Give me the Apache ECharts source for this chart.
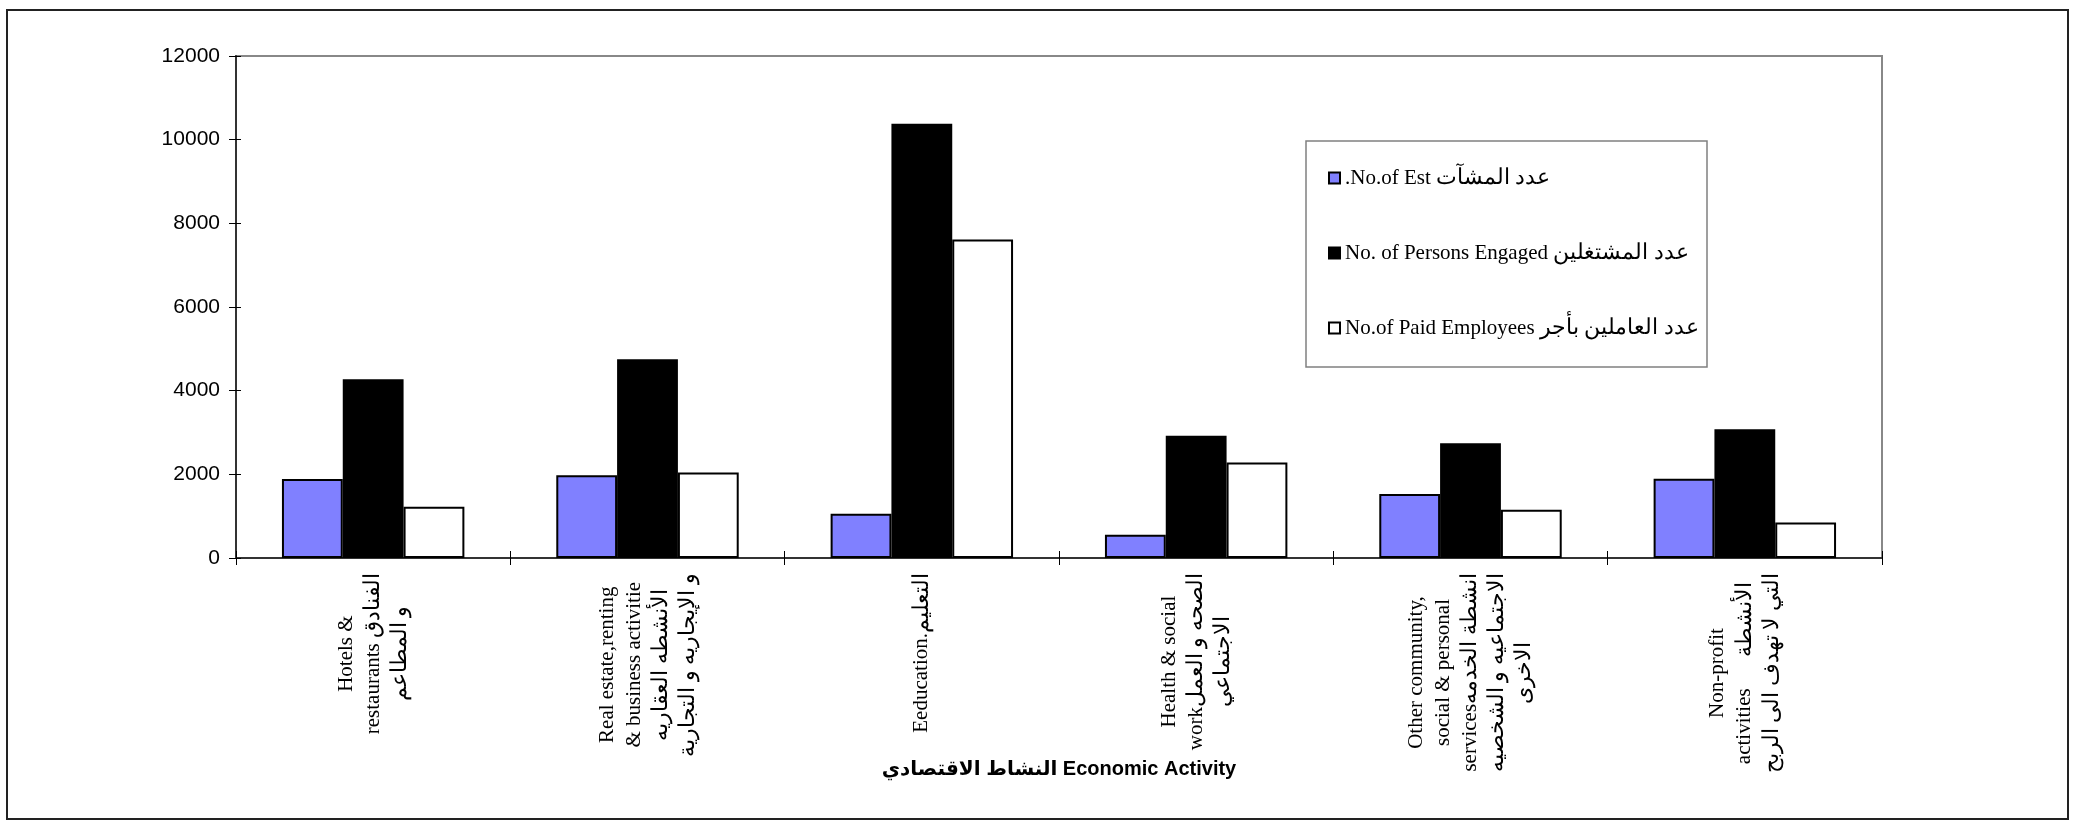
<!DOCTYPE html>
<html>
<head>
<meta charset="utf-8">
<script src="https://cdn.jsdelivr.net/npm/echarts@6/dist/echarts.min.js"></script>
<style>
html,body{margin:0;padding:0;background:#fff;}
#chart{width:2075px;height:824px;}
</style>
</head>
<body>
<div id="chart"></div>
<script>
// ---- data ----
var categories = [
  "Hotels &\nrestaurants الفنادق\nو المطاعم",
  "Real estate,renting\n& business activitie\nالأنشطه العقاريه\nو الإيجاريه و التجارية",
  "Eeducation.التعليم",
  "Health & social\nworkالصحه و العمل\nالاجتماعي",
  "Other community,\nsocial & personal\nservicesانشطة الخدمه\nالاجتماعيه و الشخصيه\nالاخرى",
  "Non-profit\nactivities      الأنشطة\nالتي لا تهدف الى الربح"
];
var seriesNames = [
  ".No.of Est عدد المشآت",
  "No. of Persons Engaged عدد المشتغلين",
  "No.of Paid Employees عدد العاملين بأجر"
];
var establishments = [1886, 1981, 1058, 557, 1528, 1894];
var personsEngaged = [4272, 4750, 10383, 2920, 2745, 3079];
var paidEmployees = [1225, 2045, 7614, 2283, 1154, 851];
var yTicks = [0, 2000, 4000, 6000, 8000, 10000, 12000];
var axisTitle = "النشاط الاقتصادي Economic Activity";

// ---- chart ----
var chart = echarts.init(document.getElementById('chart'), null, {renderer: 'canvas'});
var serif = "'Liberation Serif', 'Times New Roman', 'DejaVu Serif', serif";
var sans = "'Liberation Sans', Arial, 'DejaVu Sans', sans-serif";
var fills = ['#8080FF', '#000000', '#FFFFFF'];
var dataSets = [establishments, personsEngaged, paidEmployees];

// split a line into latin / arabic runs as rich tokens
function richLine(line, latinStyle, arabicStyle) {
  var parts = line.split(/([\u0600-\u06FF]+(?:\s+[\u0600-\u06FF]+)*)/);
  var out = '';
  parts.forEach(function (p) {
    if (!p) return;
    var isAr = /[\u0600-\u06FF]/.test(p);
    out += '{' + (isAr ? arabicStyle : latinStyle) + '|' + p + '}';
  });
  return out;
}

var series = dataSets.map(function (d, i) {
  return {
    name: seriesNames[i],
    type: 'bar',
    data: d,
    barGap: '0%',
    barCategoryGap: '33.5%',
    itemStyle: {color: fills[i], borderColor: '#000', borderWidth: 2},
    emphasis: {disabled: true},
    animation: false
  };
});

var option = {
  animation: false,
  backgroundColor: '#fff',
  grid: {left: 236, right: 193, top: 56, bottom: 266, show: true, borderColor: '#888', borderWidth: 2,
         containLabel: false, outerBoundsMode: 'none'},
  legend: {
    orient: 'vertical',
    left: 1323,
    top: 159,
    itemWidth: 11,
    itemHeight: 11,
    itemGap: 47,
    icon: 'rect',
    selectedMode: false,
    formatter: function (n) { return richLine(n, 'e', 'a'); },
    textStyle: {
      fontFamily: serif, fontSize: 21, color: '#000', lineHeight: 28,
      rich: {
        e: {fontFamily: serif, fontSize: 21, color: '#000', lineHeight: 28},
        a: {fontFamily: serif, fontSize: 22, color: '#000', lineHeight: 28}
      }
    },
    data: seriesNames
  },
  xAxis: [{
    type: 'category',
    data: categories,
    position: 'bottom',
    axisLine: {show: true, lineStyle: {color: '#333', width: 2}},
    axisTick: {show: true, length: 7, lineStyle: {color: '#000', width: 1}},
    axisLabel: {
      interval: 0,
      rotate: 90,
      margin: 15,
      formatter: function (v) {
        return v.split('\n').map(function (l) { return richLine(l, 'c', 'a'); }).join('\n');
      },
      rich: {
        c: {align: 'center', fontFamily: serif, fontSize: 21, lineHeight: 27, color: '#000'},
        a: {align: 'center', fontFamily: serif, fontSize: 22, lineHeight: 27, color: '#000'}
      }
    },
    name: axisTitle,
    nameLocation: 'middle',
    nameGap: 201,
    nameMoveOverlap: false,
    nameTextStyle: {fontFamily: sans, fontWeight: 'bold', fontSize: 20, color: '#000', verticalAlign: 'top'}
  }, {
    type: 'category',
    data: categories,
    position: 'bottom',
    axisLine: {show: false},
    axisTick: {show: true, inside: true, length: 7, lineStyle: {color: '#000', width: 1}},
    axisLabel: {show: false}
  }],
  yAxis: [{
    type: 'value',
    min: yTicks[0],
    max: yTicks[yTicks.length - 1],
    interval: 2000,
    splitLine: {show: false},
    axisLine: {show: true, lineStyle: {color: '#333', width: 2}},
    axisTick: {show: true, length: 7, lineStyle: {color: '#000', width: 1}},
    axisLabel: {margin: 16, fontFamily: sans, fontSize: 21, color: '#000', formatter: function (v) { return String(v); }}
  }, {
    type: 'value',
    min: yTicks[0],
    max: yTicks[yTicks.length - 1],
    interval: 2000,
    position: 'left',
    splitLine: {show: false},
    axisLine: {show: false},
    axisTick: {show: true, inside: true, length: 5, lineStyle: {color: '#000', width: 1}},
    axisLabel: {show: false}
  }],
  graphic: [
    {type: 'rect', shape: {x: 7, y: 10, width: 2061, height: 809}, style: {fill: 'none', stroke: '#222', lineWidth: 2}, silent: true, z: -10},
    {type: 'rect', shape: {x: 1306, y: 141, width: 401, height: 226}, style: {fill: '#fff', stroke: '#808080', lineWidth: 1.5}, silent: true, z: 0}
  ],
  series: series
};
chart.setOption(option);
</script>
</body>
</html>
